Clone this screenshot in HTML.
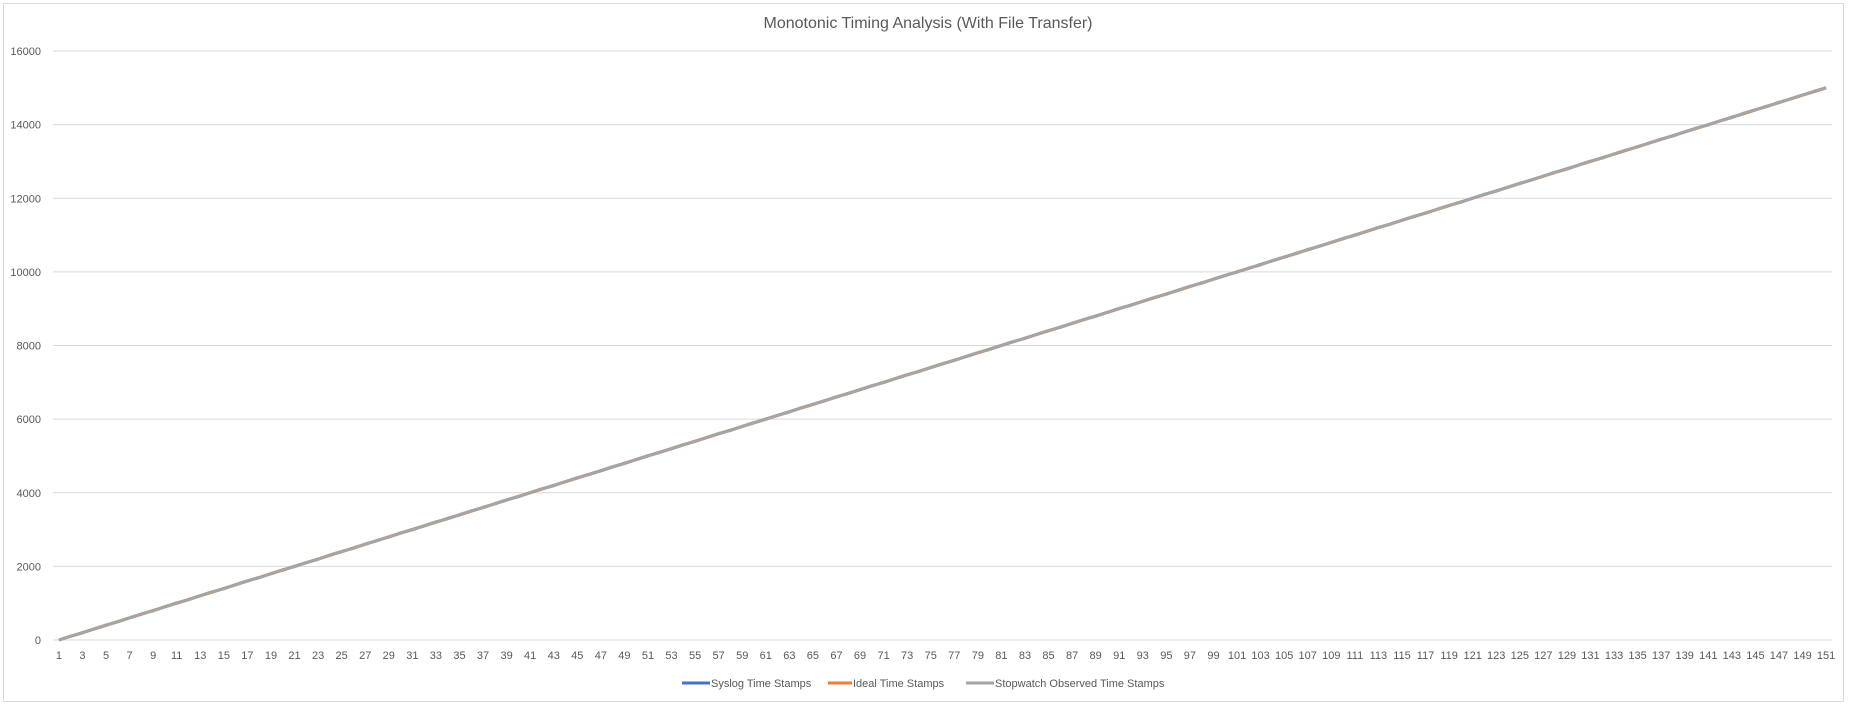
<!DOCTYPE html>
<html><head><meta charset="utf-8"><style>
html,body{margin:0;padding:0;background:#fff;}
svg{display:block;font-family:"Liberation Sans",sans-serif;}
</style></head><body>
<svg id="chart" width="1854" height="707">
<rect x="3.5" y="3.5" width="1840" height="698" fill="#fff" stroke="#d9d9d9"/>
<text x="928" y="28" text-anchor="middle" font-size="16" fill="#595959">Monotonic Timing Analysis (With File Transfer)</text>
<g id="grid"></g><g id="ylabels"></g><g id="xlabels"></g><g id="series"></g>
<g>
<g><line x1="682" y1="683" x2="710" y2="683" stroke="#4472C4" stroke-width="3"/><text x="711" y="687" font-size="11" fill="#595959">Syslog Time Stamps</text></g>
<g><line x1="828" y1="683" x2="852" y2="683" stroke="#ED7D31" stroke-width="3"/><text x="853" y="687" font-size="11" fill="#595959">Ideal Time Stamps</text></g>
<g><line x1="966" y1="683" x2="994" y2="683" stroke="#A5A5A5" stroke-width="3"/><text x="995" y="687" font-size="11" fill="#595959">Stopwatch Observed Time Stamps</text></g>
</g>
</svg>
<script>
const yTicks=[0,2000,4000,6000,8000,10000,12000,14000,16000];
const ideal=[0,100,200,300,400,500,600,700,800,900,1000,1100,1200,1300,1400,1500,1600,1700,1800,1900,2000,2100,2200,2300,2400,2500,2600,2700,2800,2900,3000,3100,3200,3300,3400,3500,3600,3700,3800,3900,4000,4100,4200,4300,4400,4500,4600,4700,4800,4900,5000,5100,5200,5300,5400,5500,5600,5700,5800,5900,6000,6100,6200,6300,6400,6500,6600,6700,6800,6900,7000,7100,7200,7300,7400,7500,7600,7700,7800,7900,8000,8100,8200,8300,8400,8500,8600,8700,8800,8900,9000,9100,9200,9300,9400,9500,9600,9700,9800,9900,10000,10100,10200,10300,10400,10500,10600,10700,10800,10900,11000,11100,11200,11300,11400,11500,11600,11700,11800,11900,12000,12100,12200,12300,12400,12500,12600,12700,12800,12900,13000,13100,13200,13300,13400,13500,13600,13700,13800,13900,14000,14100,14200,14300,14400,14500,14600,14700,14800,14900,15000];
const syslog=[0,102,198,301,403,497,601,702,799,903,1001,1098,1204,1302,1399,1501,1603,1698,1802,1899,2003,2101,2197,2302,2401,2498,2603,2700,2799,2904,3002,3097,3201,3303,3398,3502,3600,3699,3803,3901,3998,4104,4200,4299,4402,4501,4597,4702,4800,4899,5003,5101,5198,5302,5399,5501,5603,5698,5801,5900,6002,6099,6201,6303,6398,6500,6602,6699,6801,6903,6998,7100,7202,7299,7401,7502,7598,7700,7803,7899,8001,8102,8198,8301,8402,8499,8600,8703,8798,8900,9002,9099,9201,9302,9398,9500,9603,9699,9800,9902,10001,10098,10202,10301,10399,10500,10603,10698,10801,10902,10999,11100,11203,11298,11400,11502,11599,11701,11802,11898,12000,12103,12199,12300,12402,12498,12601,12702,12799,12900,13003,13098,13200,13302,13399,13501,13602,13698,13800,13903,13999,14100,14202,14298,14401,14502,14599,14700,14803,14899,15000];
const stopwatch=[0,105,190,305,410,490,605,710,790,905,1010,1090,1205,1310,1390,1505,1610,1690,1805,1910,1990,2105,2190,2310,2405,2490,2610,2695,2805,2910,2990,3105,3210,3290,3405,3510,3590,3705,3810,3890,4005,4110,4190,4305,4410,4490,4605,4710,4790,4905,5010,5090,5205,5310,5390,5505,5610,5690,5805,5910,5990,6105,6190,6310,6405,6490,6610,6695,6805,6910,6990,7105,7210,7290,7405,7510,7590,7705,7810,7890,8005,8110,8190,8305,8410,8490,8605,8710,8790,8905,9010,9090,9205,9310,9390,9505,9610,9690,9805,9910,9990,10105,10190,10310,10405,10490,10610,10695,10805,10910,10990,11105,11210,11290,11405,11510,11590,11705,11810,11890,12005,12110,12190,12305,12410,12490,12605,12710,12790,12905,13010,13090,13205,13310,13390,13505,13610,13690,13805,13910,13990,14105,14190,14310,14405,14490,14610,14695,14805,14910,15000];
const categories=ideal.map((_,i)=>String(i+1));
const NS="http://www.w3.org/2000/svg";
const L=53,R=1832,T=51,B=640,yMax=16000;
const n=categories.length, step=(R-L)/n;
const xs=i=>L+step*(i+0.5);
const ys=v=>B-(v/yMax)*(B-T);
function mk(t,a,p){const e=document.createElementNS(NS,t);for(const k in a)e.setAttribute(k,a[k]);p.appendChild(e);return e;}
const grid=document.getElementById('grid'),yl=document.getElementById('ylabels'),xl=document.getElementById('xlabels'),sg=document.getElementById('series');
yTicks.forEach(v=>{
  const g=mk('line',{x1:L,x2:R,y1:ys(v),y2:ys(v),stroke:'#d9d9d9','stroke-width':1},grid);
  
  
  const t=mk('text',{x:41,y:ys(v)+4,'text-anchor':'end','font-size':11,fill:'#595959'},yl);
  t.textContent=v;
  
  
});
categories.forEach((c,i)=>{
  if(i%2)return;
  const t=mk('text',{x:xs(i),y:659,'text-anchor':'middle','font-size':11,fill:'#595959'},xl);
  t.textContent=c;
  
  
});
[[syslog,'#4472C4','syslog-line'],[ideal,'#ED7D31','ideal-line'],[stopwatch,'#A5A5A5','stopwatch-line']].forEach(([d,c,nm])=>{
  const p=mk('polyline',{points:d.map((v,i)=>xs(i)+','+ys(v)).join(' '),fill:'none',stroke:c,'stroke-width':3,'stroke-linejoin':'round'},sg);
  
  
});
</script>
</body></html>
